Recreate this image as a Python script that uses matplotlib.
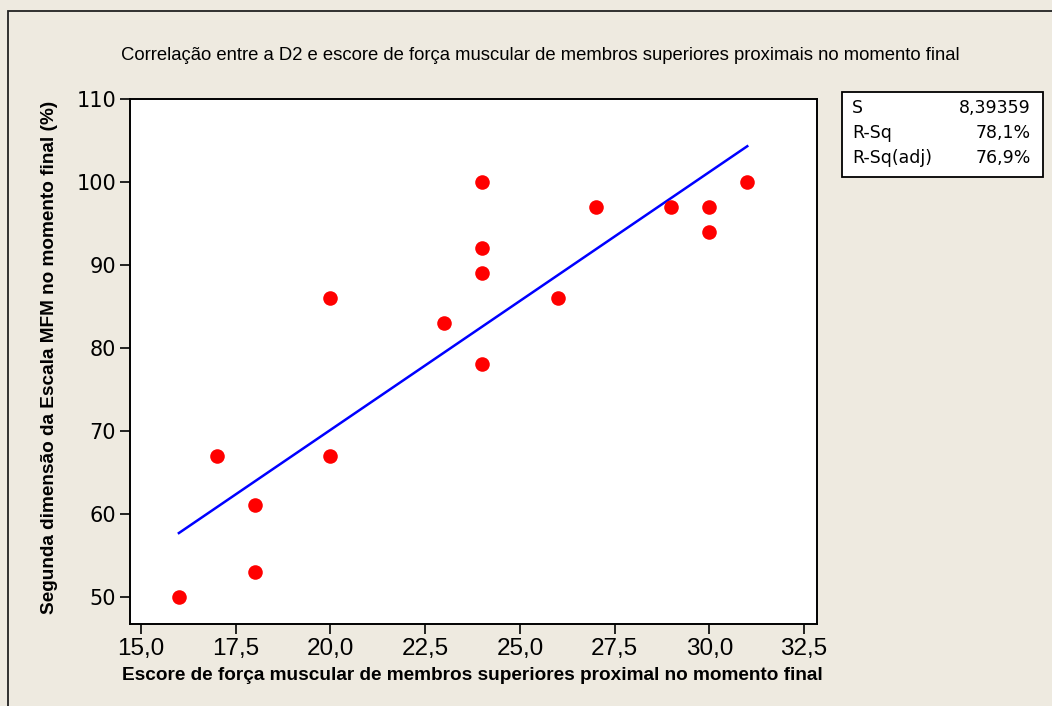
import matplotlib
matplotlib.use("Agg")
import matplotlib.pyplot as plt
from matplotlib.patches import Rectangle
from matplotlib import font_manager
import numpy as np

# ---------------- data ----------------
x_vals = [16, 17, 18, 18, 20, 20, 23, 24, 24, 24, 24, 26, 27, 29, 30, 30, 31]
y_vals = [50, 67, 61, 53, 86, 67, 83, 100, 92, 89, 78, 86, 97, 97, 97, 94, 100]
fit_intercept = 7.93
fit_slope = 3.109
fit_range = [16, 31]
x_ticks = [15.0, 17.5, 20.0, 22.5, 25.0, 27.5, 30.0, 32.5]
y_ticks = [50, 60, 70, 80, 90, 100, 110]
stat_names = ["S", "R-Sq", "R-Sq(adj)"]
stat_values = ["8,39359", "78,1%", "76,9%"]
title = "Correlação entre a D2 e escore de força muscular de membros superiores proximais no momento final"
xlabel = "Escore de força muscular de membros superiores proximal no momento final"
ylabel = "Segunda dimensão da Escala MFM no momento final (%)"

# ---------------- fonts ----------------
avail = {f.name for f in font_manager.fontManager.ttflist}
def pick(*names):
    for n in names:
        if n in avail:
            return n
    return "DejaVu Sans"
F_REG = pick("Liberation Sans", "DejaVu Sans")
F_NARROW = pick("Liberation Sans Narrow", "Liberation Sans", "DejaVu Sans")
F_Y = pick("DejaVu Sans")

W, H = 1052, 706
BG = "#EEEAE0"
fig = plt.figure(figsize=(W / 100, H / 100), dpi=100, facecolor=BG)

def fx(px):
    return px / W
def fy(py):
    return 1 - py / H

# outer border
fig.patches.append(Rectangle((fx(8), -0.05), 1.1, fy(11) + 0.05, transform=fig.transFigure,
                             facecolor="none", edgecolor="#222222", linewidth=1.3, clip_on=False))

ax_left, ax_right, ax_top, ax_bottom = 130, 817, 99, 624
ax = fig.add_axes([fx(ax_left), fy(ax_bottom), (ax_right - ax_left) / W, (ax_bottom - ax_top) / H])
ax.set_facecolor("white")
for s in ax.spines.values():
    s.set_linewidth(1.4)
    s.set_color("black")

ax.scatter(x_vals, y_vals, s=110, color="#FF0000", zorder=3, linewidths=0)
xf = np.linspace(fit_range[0], fit_range[1], 50)
ax.plot(xf, fit_intercept + fit_slope * xf, color="#0000FF", linewidth=1.8, zorder=2)

ax.set_xlim(14.71, 32.84)
ax.set_ylim(46.71, 110.0)
ax.set_xticks(x_ticks)
ax.set_xticklabels([f"{v:.1f}".replace(".", ",") for v in x_ticks], fontfamily=F_NARROW, fontsize=17.5)
ax.set_yticks(y_ticks)
ax.set_yticklabels([str(v) for v in y_ticks], fontfamily=F_Y, fontsize=15)
ax.tick_params(axis="both", direction="out", length=7, width=1.2, color="black")
ax.tick_params(axis="x", pad=3)
ax.tick_params(axis="y", pad=3)
ax.tick_params(top=False, right=False)

t_title = fig.text(fx(540), fy(56), title, ha="center", va="center", fontfamily=F_REG, fontsize=13)
t_xl = fig.text(fx(472), fy(675), xlabel, ha="center", va="center", fontfamily=F_REG,
                fontweight="bold", fontsize=13)
t_yl = fig.text(fx(50), fy(357), ylabel, ha="center", va="center", rotation=90,
                fontfamily=F_REG, fontweight="bold", fontsize=13)

# legend box
lb_l, lb_r, lb_t, lb_b = 842, 1043, 92, 177
fig.patches.append(Rectangle((fx(lb_l), fy(lb_b)), (lb_r - lb_l) / W, (lb_b - lb_t) / H,
                             transform=fig.transFigure, facecolor="white", edgecolor="black",
                             linewidth=1.3))
row_y = [108, 133, 158]
for name, val, ry in zip(stat_names, stat_values, row_y):
    fig.text(fx(852), fy(ry), name, ha="left", va="center", fontfamily=F_Y, fontsize=12.5)
    fig.text(fx(1031), fy(ry), val, ha="right", va="center", fontfamily=F_Y, fontsize=12.5)

# fit texts to measured widths
fig.canvas.draw()
r = fig.canvas.get_renderer()
def fit_width(t, target, vertical=False):
    bb = t.get_window_extent(renderer=r)
    cur = bb.height if vertical else bb.width
    t.set_fontsize(t.get_fontsize() * target / cur)
fit_width(t_title, 837)
fit_width(t_xl, 700)
fit_width(t_yl, 512, vertical=True)

fig.savefig("out.png", dpi=100, facecolor=BG)
